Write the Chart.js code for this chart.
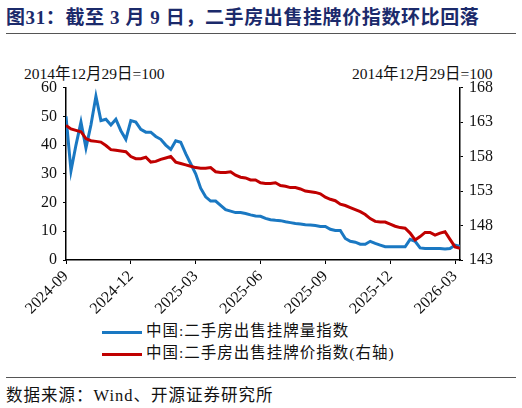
<!DOCTYPE html>
<html>
<head>
<meta charset="utf-8">
<script src="https://cdn.jsdelivr.net/npm/chart.js@4"></script>
<style>
  body { margin: 0; width: 522px; height: 408px; background: #fff; position: relative; overflow: hidden;
         font-family: "Liberation Serif", "Noto Sans CJK SC", serif; }
  .title { position: absolute; left: 6px; top: 2px; font-size: 19px; font-weight: bold; color: #1b2a6b;
           font-family: "Liberation Serif", "Noto Sans CJK SC", serif; letter-spacing: 0.6px; white-space: nowrap; }
  .rule { position: absolute; left: 6px; width: 510px; height: 1px; background: #555; }
  .unit { position: absolute; top: 61px; font-size: 15.5px; color: #111; white-space: nowrap; }
  .legend { position: absolute; left: 102px; font-size: 15.5px; color: #111; white-space: nowrap; letter-spacing: 1px; }
  .legend span.sw { display: inline-block; width: 40px; height: 3px; vertical-align: middle; margin-right: 4px; }
  .src { position: absolute; left: 6px; top: 382px; font-size: 16.5px; color: #111; white-space: nowrap; letter-spacing: 1px; }
  #wrap { position: absolute; left: 0; top: 72px; width: 522px; height: 246px; }
</style>
</head>
<body>
<div class="title">图31：截至 3 月 9 日，二手房出售挂牌价指数环比回落</div>
<div class="rule" style="top:33px"></div>
<div class="unit" style="left:24px">2014年12月29日=100</div>
<div class="unit" style="left:352px">2014年12月29日=100</div>
<div id="wrap"><canvas id="c"></canvas></div>
<div class="legend" style="top:318px"><span class="sw" style="background:#1a78c2"></span>中国:二手房出售挂牌量指数</div>
<div class="legend" style="top:340px"><span class="sw" style="background:#c00000"></span>中国:二手房出售挂牌价指数(右轴)</div>
<div class="rule" style="top:377px"></div>
<div class="src">数据来源：Wind、开源证券研究所</div>
<script>
// 刻度标签（每季度一个，周度数据）
const tickPos = [0, 13, 26, 39, 52, 65, 78];
const tickLabels = ['2024-09', '2024-12', '2025-03', '2025-06', '2025-09', '2025-12', '2026-03'];

// 挂牌量指数（左轴）
const volume = [50, 31, 40, 48, 39, 47, 57, 48.5, 49, 47, 49, 45, 42, 48.5, 48, 45.5, 44.5, 44.5, 43, 42,
  40, 38.5, 41.5, 41, 37, 33.5, 30, 25, 22, 20.5, 20.5, 19, 17.5, 17, 16.5, 16.5, 16.2, 15.7, 15.3, 15.2,
  14.5, 14, 13.8, 13.7, 13.3, 13, 12.7, 12.5, 12.3, 12.2, 12, 11.7, 11.7, 10.7, 10.3, 10.3, 7.5, 6.5, 6.2, 5.5,
  5.5, 6.5, 5.8, 5.2, 4.6, 4.6, 4.6, 4.6, 4.6, 7.2, 6.5, 4.2, 4, 4, 4, 4, 3.8, 4, 5.2, 4.8];

// 挂牌价指数（右轴）
const price = [162.5, 162.0, 161.8, 161.6, 160.6, 160.3, 160.2, 160.1, 159.6, 159.0, 158.9, 158.8, 158.7, 158.0,
  157.7, 157.7, 157.9, 157.2, 157.3, 157.6, 157.8, 158.0, 157.2, 157.0, 156.8, 156.6, 156.4, 156.3, 156.3, 156.4,
  155.8, 155.7, 155.7, 155.8, 155.3, 155.0, 154.9, 154.6, 154.6, 154.2, 154.1, 154.1, 154.2, 153.8, 153.7, 153.5,
  153.5, 153.3, 153.0, 152.9, 152.8, 152.6, 152.1, 151.8, 151.6, 151.1, 150.9, 150.6, 150.3, 150.0, 149.6, 149.0,
  148.6, 148.5, 148.5, 148.2, 147.9, 147.7, 147.6, 146.9, 145.9, 146.4, 147.0, 147.0, 146.6, 146.9, 147.1, 146.0,
  144.9, 144.7];

const toXY = arr => arr.map((v, i) => ({ x: i, y: v }));
const tickFont = { family: 'Liberation Serif', size: 16 };

new Chart(document.getElementById('c'), {
  type: 'line',
  data: {
    datasets: [
      { data: toXY(volume), borderColor: '#1a78c2', borderWidth: 3, pointRadius: 0, yAxisID: 'y', order: 2 },
      { data: toXY(price), borderColor: '#c00000', borderWidth: 3, pointRadius: 0, yAxisID: 'y1', order: 1 }
    ]
  },
  options: {
    responsive: true,
    maintainAspectRatio: false,
    animation: false,
    layout: { padding: { top: 9, right: 0, left: 0, bottom: 0 } },
    plugins: { legend: { display: false }, tooltip: { enabled: false } },
    scales: {
      x: {
        type: 'linear', min: 0, max: 79,
        afterBuildTicks: ax => { ax.ticks = tickPos.map(v => ({ value: v })); },
        afterFit: ax => { ax.height = 58; },
        ticks: {
          color: '#111', font: tickFont, maxRotation: 45, minRotation: 45, autoSkip: false,
          callback: v => tickLabels[tickPos.indexOf(v)]
        },
        grid: { drawOnChartArea: false, tickLength: 4, color: '#000' },
        border: { color: '#000', width: 1.5 }
      },
      y: {
        position: 'left', min: 0, max: 60,
        afterFit: ax => { ax.width = 66; },
        ticks: { stepSize: 10, color: '#111', font: tickFont, padding: 6 },
        grid: { drawOnChartArea: false, tickLength: 3, color: '#000' },
        border: { color: '#000', width: 1.5 }
      },
      y1: {
        position: 'right', min: 143, max: 168,
        afterFit: ax => { ax.width = 62; },
        ticks: { stepSize: 5, color: '#111', font: tickFont, padding: 6 },
        grid: { drawOnChartArea: false, tickLength: 3, color: '#000' },
        border: { color: '#000', width: 1.5 }
      }
    }
  }
});
</script>
</body>
</html>
